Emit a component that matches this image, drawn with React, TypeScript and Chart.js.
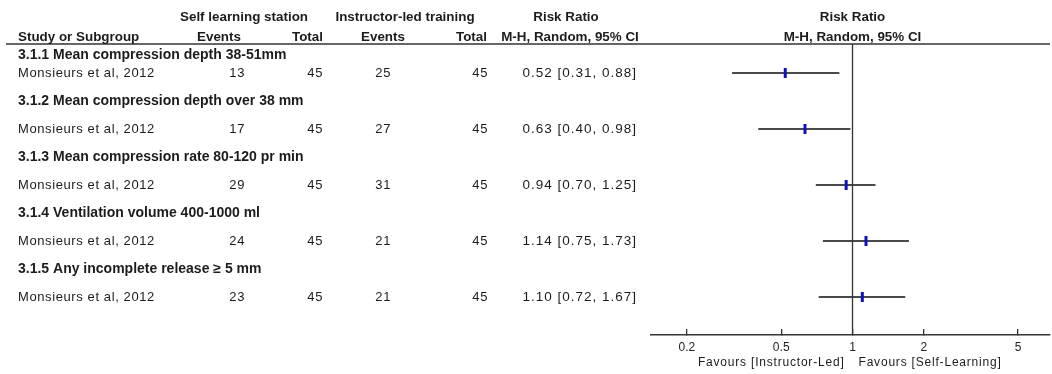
import React, { useEffect, useRef } from "react";
import { Chart, registerables } from "chart.js";

Chart.register(...registerables);

const subgroups = [
  "3.1.1 Mean compression depth 38-51mm",
  "3.1.2 Mean compression depth over 38 mm",
  "3.1.3 Mean compression rate 80-120 pr min",
  "3.1.4 Ventilation volume 400-1000 ml",
  "3.1.5 Any incomplete release \u2265 5 mm",
];
const studies = [
  "Monsieurs et al, 2012",
  "Monsieurs et al, 2012",
  "Monsieurs et al, 2012",
  "Monsieurs et al, 2012",
  "Monsieurs et al, 2012",
];
const selfEvents = [13, 17, 29, 24, 23];
const selfTotal = [45, 45, 45, 45, 45];
const instrEvents = [25, 27, 31, 21, 21];
const instrTotal = [45, 45, 45, 45, 45];
const riskRatio = [0.52, 0.63, 0.94, 1.14, 1.1];
const ciLow = [0.31, 0.4, 0.7, 0.75, 0.72];
const ciHigh = [0.88, 0.98, 1.25, 1.73, 1.67];
const tickValues = [0.2, 0.5, 1, 2, 5];
const tickLabels = ["0.2", "0.5", "1", "2", "5"];
const favourLeft = "Favours [Instructor-Led]";
const favourRight = "Favours [Self-Learning]";

const FONT = "'Liberation Sans', Arial, sans-serif";
const TEXT = "#1c1c1c";
const LINE = "#333333";

const studyY = (k: number) => 2 * k + 1;
const subgroupY = (k: number) => (k === 0 ? 0.35 : 2 * k);

const fmt = (v: number) => v.toFixed(2);

const tablePlugin = {
  id: "forestTable",
  afterDraw(chart: any) {
    const { ctx, scales, chartArea } = chart;
    const xs = scales.x;
    const ys = scales.y;
    const x1 = xs.getPixelForValue(1);
    ctx.save();
    // header rule
    ctx.strokeStyle = LINE;
    ctx.lineWidth = 1.5;
    ctx.beginPath();
    ctx.moveTo(6, chartArea.top);
    ctx.lineTo(chartArea.right, chartArea.top);
    ctx.stroke();
    // null line
    ctx.lineWidth = 1.3;
    ctx.beginPath();
    ctx.moveTo(x1, chartArea.top);
    ctx.lineTo(x1, chartArea.bottom);
    ctx.stroke();

    ctx.fillStyle = TEXT;
    ctx.textBaseline = "middle";
    const head = `bold 13.4px ${FONT}`;
    const sub = `bold 14px ${FONT}`;
    const reg = `13px ${FONT}`;
    const num = `13.5px ${FONT}`;
    const txt = (s: string, x: number, y: number, align: CanvasTextAlign, font: string, ls = "0px") => {
      ctx.font = font;
      (ctx as any).letterSpacing = ls;
      ctx.textAlign = align;
      ctx.fillText(s, x, y);
    };
    // headers
    txt("Self learning station", 244, 17, "center", head);
    txt("Instructor-led training", 405, 17, "center", head);
    txt("Risk Ratio", 566, 17, "center", head);
    txt("Risk Ratio", x1, 17, "center", head);
    txt("Study or Subgroup", 18, 37, "left", head);
    txt("Events", 219, 37, "center", head);
    txt("Total", 323, 37, "right", head);
    txt("Events", 383, 37, "center", head);
    txt("Total", 487, 37, "right", head);
    txt("M-H, Random, 95% CI", 570, 37, "center", head);
    txt("M-H, Random, 95% CI", x1, 37, "center", head);

    subgroups.forEach((s, k) => {
      txt(s, 18, ys.getPixelForValue(subgroupY(k)), "left", sub);
    });
    studies.forEach((s, k) => {
      const y = ys.getPixelForValue(studyY(k));
      const ls = "0.6px";
      txt(s, 18, y, "left", reg, ls);
      txt(String(selfEvents[k]), 245, y, "right", reg, ls);
      txt(String(selfTotal[k]), 323, y, "right", reg, ls);
      txt(String(instrEvents[k]), 391, y, "right", reg, ls);
      txt(String(instrTotal[k]), 488, y, "right", reg, ls);
      txt(`${fmt(riskRatio[k])} [${fmt(ciLow[k])}, ${fmt(ciHigh[k])}]`, 637, y, "right", num, "1px");
    });
    txt(favourLeft, x1 - 8, 363, "right", `12px ${FONT}`, "0.8px");
    txt(favourRight, x1 + 6, 363, "left", `12px ${FONT}`, "0.8px");
    ctx.restore();
  },
};

export default function App() {
  const ref = useRef<HTMLCanvasElement | null>(null);
  useEffect(() => {
    document.body.style.margin = "0";
    document.body.style.background = "#ffffff";
    if (!ref.current) return;
    const whiskers = riskRatio.map((_, k) => ({
      type: "line" as const,
      data: [
        { x: ciLow[k], y: studyY(k) },
        { x: ciHigh[k], y: studyY(k) },
      ],
      borderColor: "#4a4a4a",
      borderWidth: 2,
      pointRadius: 0,
      order: 2,
    }));
    const chart = new Chart(ref.current, {
      type: "scatter",
      data: {
        datasets: [
          {
            type: "scatter" as const,
            data: riskRatio.map((v, k) => ({ x: v, y: studyY(k) })),
            pointStyle: "line",
            rotation: 90,
            radius: 5,
            borderColor: "#1010c0",
            backgroundColor: "#1010c0",
            borderWidth: 3,
            order: 0,
          } as any,
          ...whiskers,
        ],
      },
      options: {
        responsive: false,
        animation: false,
        devicePixelRatio: 1,
        layout: { autoPadding: false, padding: { left: 651, right: 2, top: 44, bottom: 0 } },
        plugins: { legend: { display: false }, tooltip: { enabled: false } },
        scales: {
          x: {
            type: "logarithmic",
            position: "bottom",
            min: 0.141,
            max: 6.82,
            afterBuildTicks: (s: any) => {
              s.ticks = tickValues.map((v) => ({ value: v }));
            },
            afterFit: (s: any) => {
              s.height = 39;
              s.paddingLeft = 0;
              s.paddingRight = 0;
            },
            ticks: {
              autoSkip: false,
              maxRotation: 0,
              padding: 11,
              color: "#222222",
              font: { family: FONT, size: 12 },
              callback: (_v: any, i: number) => tickLabels[i],
            },
            grid: {
              display: true,
              drawOnChartArea: false,
              drawTicks: true,
              tickLength: -6,
              color: LINE,
              lineWidth: 1.3,
            },
            border: { display: true, color: LINE, width: 1.5 },
          },
          y: {
            type: "linear",
            display: false,
            reverse: true,
            min: -0.036,
            max: 10.357,
          },
        },
      },
      plugins: [tablePlugin],
    });
    return () => chart.destroy();
  }, []);
  return (
    <div style={{ width: 1052, height: 374, background: "#fff" }}>
      <canvas ref={ref} width={1052} height={374} style={{ display: "block" }} />
    </div>
  );
}
